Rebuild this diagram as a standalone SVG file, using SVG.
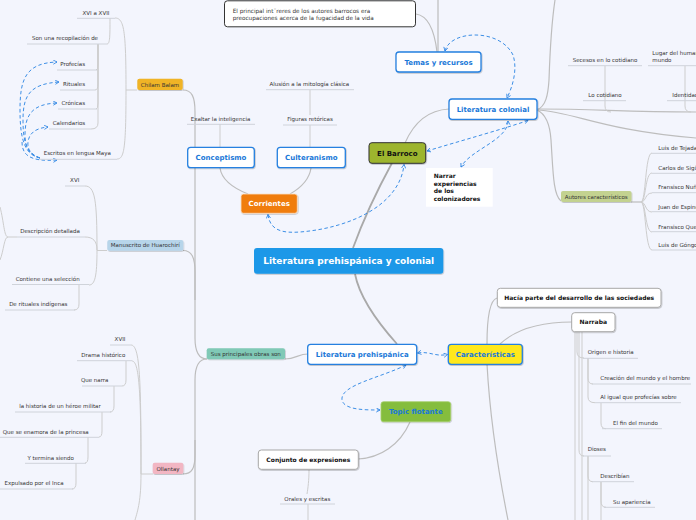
<svg xmlns="http://www.w3.org/2000/svg" width="696" height="520" viewBox="0 0 696 520">
<defs>
<marker id="ar" viewBox="0 0 6 6" refX="5" refY="3" markerWidth="5" markerHeight="5" markerUnits="userSpaceOnUse" orient="auto-start-reverse"><path d="M0.5,0.5 L5,3 L0.5,5.5" fill="none" stroke="#2f86e4" stroke-width="1"/></marker>
<filter id="sh" x="-10%" y="-20%" width="120%" height="150%"><feDropShadow dx="0.6" dy="0.8" stdDeviation="0.6" flood-color="#000" flood-opacity="0.25"/></filter>
</defs>
<style>
text{font-family:"DejaVu Sans","Liberation Sans",sans-serif;}
.s{font-size:5.5px;fill:#333;}
.sm{font-size:5.5px;fill:#333;text-anchor:middle;}
.tb{font-size:7px;font-weight:bold;fill:#1a78d8;text-anchor:middle;}
.tk{font-size:6px;font-weight:bold;fill:#111;text-anchor:middle;}
.blue{fill:#fff;stroke:#2580e0;stroke-width:1.3;}
.gray{fill:#fff;stroke:#a8a8a8;stroke-width:1;}
.u{fill:none;stroke:#cfd3da;stroke-width:1;}
.c1{fill:none;stroke:#a9a9a9;stroke-width:1.8;}
.c2{fill:none;stroke:#bdbdbd;stroke-width:1.2;}
.c3{fill:none;stroke:#cdcdcd;stroke-width:1;}
.d{fill:none;stroke:#3d8fe6;stroke-width:1;stroke-dasharray:3.5 2.5;marker-start:url(#ar);marker-end:url(#ar);}
.de{fill:none;stroke:#3d8fe6;stroke-width:1;stroke-dasharray:3.5 2.5;marker-end:url(#ar);}
</style>
<rect width="696" height="520" fill="#f3f5fd"/>

<g id="connectors">
<!-- main branches -->
<path class="c1" d="M353,248 C365,215 380,185 392,163"/>
<path class="c1" d="M355,274 C360,300 380,325 397,344"/>
<path class="c2" d="M405,143 C415,120 430,110 449,109"/>
<path class="c2" d="M438,0 V52"/>
<path class="c2" d="M416,14 C430,16 435,35 437,52"/>
<path class="c2" d="M537,110 C546,106 548,95 549,80 C550,50 552,20 555,0"/>
<path class="c2" d="M537,110 C546,114 550,125 551,140 C553,170 553,195 561,201"/>
<path class="c2" d="M537,109 C600,109 620,112 696,112"/>
<path class="c2" d="M537,110 C575,112 600,130 696,138"/>
<path class="c3" d="M605,66 V106 Q605,112 611,112"/>
<path class="c3" d="M685,66 V106 Q685,112 691,112"/>
<!-- autores -->
<path class="c2" d="M631,202 H641"/>
<path class="c3" d="M641,202 C646,202 645,153 652,153"/>
<path class="c3" d="M641,202 C646,202 645,173 652,173"/>
<path class="c3" d="M641,202 C646,202 645,193 652,193"/>
<path class="c3" d="M641,202 C646,202 645,212 652,212"/>
<path class="c3" d="M641,202 C646,202 645,232 652,232"/>
<path class="c3" d="M641,202 C646,202 645,250 652,250"/>
<!-- corrientes -->
<path class="c2" d="M220,168 C222,182 238,190 248,194"/>
<path class="c2" d="M311,168 C309,182 297,190 290,194"/>
<path class="c3" d="M220,124 V147"/>
<path class="c3" d="M310,90 V115"/>
<path class="c3" d="M310,125 V147"/>
<!-- prehispanica -->
<path class="c2" d="M308,354 C298,354 296,359 285,359"/>
<path class="c2" d="M207,359 C199,359 195,352 195,338 V112 C195,97 192,90 183,90"/>
<path class="c2" d="M195,300 V272 C195,258 192,250.5 183,250.5"/>
<path class="c2" d="M207,359 C199,359 195,366 195,380 V455 C195,468 192,474 183,474"/>
<path class="c2" d="M195,440 V520"/>
<path class="c2" d="M410,422 C400,445 380,458 358,459"/>
<path class="c3" d="M309,470 C309,480 308,488 307,494"/>
<path class="c3" d="M308,504 V520"/>
<path class="c2" d="M497,298 C490,300 487,315 487,344"/>
<path class="c2" d="M487,364 C490,420 498,470 508,520"/>
<path class="c2" d="M500,344 C515,330 540,322 572,322"/>
<!-- narraba -->
<path class="c3" d="M577,332 V352 Q577,358 584,358"/>
<path class="c3" d="M579,332 V450 Q579,456 584,456"/>
<path class="c3" d="M575,332 V520"/>
<path class="c3" d="M582,332 V520"/>
<path class="c3" d="M588,358 V378 Q588,384 593,384"/>
<path class="c3" d="M588,358 V397 Q588,402.7 595,402.7"/>
<path class="c3" d="M601,403 V423 Q601,428.7 606,428.7"/>
<path class="c3" d="M588,456 V476 Q588,481.7 593,481.7"/>
<path class="c3" d="M588,456 V520"/>
<path class="c3" d="M601,482 V501 Q601,507.3 606,507.3"/>
<path class="c3" d="M601,482 V520"/>
<!-- chilam balam -->
<path class="c3" d="M137,90 H126"/>
<path class="c3" d="M126,90 C126,30 124,18 115,18"/>
<path class="c3" d="M126,90 C126,150 124,159 117,159"/>
<path class="c3" d="M110,18 C110,36 110,44 107,44"/>
<path class="c3" d="M98,44 V64 Q98,70 96,70"/>
<path class="c3" d="M98,44 V84 Q98,90 95,90"/>
<path class="c3" d="M98,44 V103 Q98,109 96,109"/>
<path class="c3" d="M98,44 V123 Q98,129 91,129"/>
<!-- manuscrito -->
<path class="c3" d="M107,250.5 H97"/>
<path class="c3" d="M97,250 C97,200 95,186 85,186"/>
<path class="c3" d="M97,250 C97,241 93,237 85,237"/>
<path class="c3" d="M97,250 C97,276 95,285 89,285"/>
<path class="c3" d="M79,285 V304 Q79,310 74,310"/>
<path class="c3" d="M17,237 H8 C4,237 4,222 0,207"/>
<path class="c3" d="M8,237 C4,237 4,250 0,260"/>
<!-- ollantay -->
<path class="c3" d="M153,474 H141"/>
<path class="c3" d="M141,474 C141,380 140,345 131,345"/>
<path class="c3" d="M141,474 C141,390 139,361 132,361"/>
<path class="c3" d="M141,474 C141,500 138,510 135,520"/>
<path class="c3" d="M126,361 V380 Q126,386 122,386"/>
<path class="c3" d="M114,386 V406 Q114,412 110,412"/>
<path class="c3" d="M102,412 V431 Q102,437 99,437"/>
<path class="c3" d="M88,437 V457 Q88,463 85,463"/>
<path class="c3" d="M76,463 V483 Q76,489 72,489"/>
<!-- dashed relations -->
<path class="d" d="M268,214.5 C270,232 285,233 300,232 C350,228 400,205 404,164.5"/>
<path class="d" d="M427,151 C460,141 500,130 528,120.5"/>
<path class="d" d="M508,121 C508,140 470,150 461,167"/>
<path class="d" d="M445,51 C450,30 500,28 513,55 C518,70 512,88 507,98"/>
<path class="d" d="M417.5,353 C430,351 435,357 447.5,354.5"/>
<path class="d" d="M406,365 C380,378 340,385 342,400 C344,410 365,410 380,410"/>
<path class="de" d="M40,158 C25,155 20,140 20,110 C20,80 25,63 57,62"/>
<path class="de" d="M40,158 C28,155 23,145 23,120 C23,95 30,84 59,82"/>
<path class="de" d="M40,158 C30,155 25,148 25,135 C25,115 32,104 57,103"/>
<path class="de" d="M40,158 C32,155 27,150 28,142 C29,133 36,128 48,127"/>
<path class="de" d="M22,142 C22,155 30,162 57,160"/>
</g>

<g id="underlines">
<path class="u" d="M77,18.3 H115 M27,44 H107 M57,70 H97 M60,90 H95 M58,109 H97 M49,129 H91 M39,159.3 H117"/>
<path class="u" d="M187,124.3 H255 M266,89.7 H354 M283,125 H337"/>
<path class="u" d="M65,186 H85 M17,237 H85 M12,284.5 H89 M5,310 H75"/>
<path class="u" d="M110,345 H131 M77,360.7 H132 M82,386 H122 M15,412 H111 M0,437.3 H99 M25,463.3 H86 M0,489 H73"/>
<path class="u" d="M280,504 H335"/>
<path class="u" d="M568,65.7 H642 M648,65.7 H696 M583,100.7 H626 M667,100.7 H696"/>
<path class="u" d="M652,153.3 H696 M652,173.3 H696 M652,192.7 H696 M652,211.7 H696 M652,231.7 H696 M652,250 H696"/>
<path class="u" d="M583,358.3 H638 M592,384 H691 M595,402.7 H681 M602,428.7 H662 M583,456 H611 M592,481.7 H634 M604,507.3 H655"/>
</g>

<g id="main"><rect x="254" y="248" width="189.3" height="25.7" rx="3" fill="#1c98e8" filter="url(#sh)"/><text x="348.7" y="264.3" style="font-size:9px;font-weight:bold;fill:#fff;text-anchor:middle">Literatura prehispánica y colonial</text></g>

<g id="topbox"><rect x="224.5" y="0.8" width="191" height="26" rx="3" fill="#fff" stroke="#333" stroke-width="1"/><text x="232.7" y="12.6" style="font-size:5.7px;fill:#333">El principal int¨reres de los autores barrocos era</text><text x="232.7" y="19.6" style="font-size:5.7px;fill:#333">preocupaciones acerca de la fugacidad de la vida</text></g>

<g id="temas"><rect class="blue" x="396" y="52" width="85" height="20" rx="3" filter="url(#sh)"/><text class="tb" x="438.5" y="64.5">Temas y recursos</text></g>
<g id="colonial"><rect class="blue" x="449" y="99" width="88" height="20.3" rx="3" filter="url(#sh)"/><text class="tb" x="493" y="111.6">Literatura colonial</text></g>
<g id="barroco"><rect x="369" y="142.7" width="56.7" height="20.6" rx="3" fill="#9db52f" stroke="#333" stroke-width="1" filter="url(#sh)"/><text class="tb" x="397.3" y="155.5" style="fill:#111">El Barroco</text></g>
<g id="conceptismo"><rect class="blue" x="187.7" y="147.3" width="66.6" height="20.4" rx="3" filter="url(#sh)"/><text class="tb" x="221" y="160">Conceptismo</text></g>
<g id="culteranismo"><rect class="blue" x="277.3" y="147.3" width="68" height="20.4" rx="3" filter="url(#sh)"/><text class="tb" x="311.3" y="160">Culteranismo</text></g>
<g id="corrientes"><rect x="241" y="194" width="56.3" height="19.3" rx="2.5" fill="#f07d10" stroke="#fbe2c8" stroke-width="0.8" filter="url(#sh)"/><text class="tb" x="269.2" y="206.2" style="fill:#fff">Corrientes</text></g>
<g id="narrar"><rect x="426" y="168" width="66.7" height="38.7" fill="#fff"/><text x="433.7" y="178" style="font-size:6px;font-weight:bold;fill:#111">Narrar</text><text x="433.7" y="185.6" style="font-size:6px;font-weight:bold;fill:#111">experiencias</text><text x="433.7" y="193.3" style="font-size:6px;font-weight:bold;fill:#111">de los</text><text x="433.7" y="201" style="font-size:6px;font-weight:bold;fill:#111">colonizadores</text></g>

<g id="exaltar"><text class="s" x="190.7" y="121">Exaltar la inteligencia</text></g>
<g id="alusion"><text class="sm" x="309.3" y="86">Alusión a la mitología clásica</text></g>
<g id="figuras"><text class="sm" x="310" y="121">Figuras retóricas</text></g>

<g id="secesos"><text class="s" x="572.7" y="62">Secesos en lo cotidiano</text></g>
<g id="lugar"><text class="s" x="652.3" y="55.3">Lugar del humano en el</text><text class="s" x="652.3" y="62">mundo</text></g>
<g id="locotidiano"><text class="s" x="588.3" y="97">Lo cotidiano</text></g>
<g id="identidad"><text class="s" x="672.3" y="97">Identidad</text></g>

<g id="autores"><rect x="561" y="191" width="70.5" height="11" rx="2" fill="#c3d290" filter="url(#sh)"/><text class="sm" x="596.2" y="198.5">Autores característicos</text></g>
<g id="a1"><text class="s" x="658.3" y="150.3">Luis de Tejada</text></g>
<g id="a2"><text class="s" x="658.3" y="169.7">Carlos de Sigüenza</text></g>
<g id="a3"><text class="s" x="658.3" y="189.3">Fransisco Nuñez</text></g>
<g id="a4"><text class="s" x="658.3" y="209.3">Juan de Espinosa</text></g>
<g id="a5"><text class="s" x="658.3" y="228.7">Fransisco Quevedo</text></g>
<g id="a6"><text class="s" x="658.3" y="247">Luis de Góngora</text></g>

<g id="chilam"><rect x="137.3" y="78.7" width="45.4" height="11.3" rx="2" fill="#f0b428" filter="url(#sh)"/><text class="sm" x="160" y="86.5">Chilam Balam</text></g>
<g id="xvi-xvii"><text class="sm" x="96" y="15.3">XVI a XVII</text></g>
<g id="recopilacion"><text class="sm" x="65" y="40.3">Son una recopilación de</text></g>
<g id="profecias"><text class="sm" x="72.7" y="66">Profecías</text></g>
<g id="rituales"><text class="sm" x="74" y="86">Rituales</text></g>
<g id="cronicas"><text class="sm" x="73.3" y="105.3">Crónicas</text></g>
<g id="calendarios"><text class="sm" x="69" y="125.3">Calendarios</text></g>
<g id="escritos"><text class="sm" x="77.3" y="155.3">Escritos en lengua Maya</text></g>

<g id="manuscrito"><rect x="107.3" y="240" width="76" height="10.7" rx="2" fill="#b7d5ea" filter="url(#sh)"/><text class="sm" x="145.3" y="247.4">Manuscrito de Huarochirí</text></g>
<g id="xvi"><text class="sm" x="74.7" y="182">XVI</text></g>
<g id="descripcion"><text class="sm" x="50" y="233">Descripción detallada</text></g>
<g id="contiene"><text class="sm" x="47.7" y="281">Contiene una selección</text></g>
<g id="derituales"><text class="sm" x="38.3" y="306">De rituales indígenas</text></g>

<g id="ollantay"><rect x="152.7" y="462.7" width="30.6" height="11.3" rx="2" fill="#f2b6c3" filter="url(#sh)"/><text class="sm" x="168" y="470.5">Ollantay</text></g>
<g id="xvii"><text class="sm" x="120" y="341">XVII</text></g>
<g id="drama"><text class="sm" x="103.3" y="357">Drama histórico</text></g>
<g id="quenarra"><text class="sm" x="94.7" y="382.3">Que narra</text></g>
<g id="historia"><text class="sm" x="60" y="408">la historia de un héroe militar</text></g>
<g id="enamora"><text class="sm" x="45.7" y="434">Que se enamora de la princesa</text></g>
<g id="termina"><text class="sm" x="50.7" y="460">Y termina siendo</text></g>
<g id="expulsado"><text class="sm" x="34" y="485.3">Expulsado por el Inca</text></g>

<g id="obras"><rect x="206.7" y="348.3" width="78.3" height="11" rx="2" fill="#80c9b6" filter="url(#sh)"/><text class="sm" x="245.8" y="355.8">Sus principales obras son</text></g>
<g id="prehispanica"><rect class="blue" x="307.7" y="344.3" width="109" height="20" rx="3" filter="url(#sh)"/><text class="tb" x="362.2" y="356.6">Literatura prehispánica</text></g>
<g id="caracteristicas"><rect x="448.3" y="344.3" width="74" height="20" rx="3" fill="#ffe81a" stroke="#2580e0" stroke-width="1.3" filter="url(#sh)"/><text class="tb" x="485.3" y="356.6">Características</text></g>
<g id="flotante"><rect x="381" y="401.7" width="69.7" height="20" rx="2.5" fill="#85bd3c" stroke="#a7d06f" stroke-width="0.8" filter="url(#sh)"/><text class="tb" x="415.8" y="414">Topic flotante</text></g>
<g id="conjunto"><rect class="gray" x="258.3" y="450" width="100" height="19.3" rx="3" filter="url(#sh)"/><text class="tk" x="308.3" y="461.8">Conjunto de expresiones</text></g>
<g id="orales"><text class="sm" x="307.3" y="501">Orales y escritas</text></g>

<g id="hacia"><rect class="gray" x="497.3" y="288.3" width="163.7" height="19" rx="3" filter="url(#sh)"/><text class="tk" x="579.2" y="299.9">Hacía parte del desarrollo de las sociedades</text></g>
<g id="narraba"><rect class="gray" x="571.7" y="312.7" width="43.3" height="19" rx="3" filter="url(#sh)"/><text class="tk" x="593.3" y="324.3">Narraba</text></g>
<g id="origen"><text class="s" x="587.7" y="354.3">Origen e historia</text></g>
<g id="creacion"><text class="s" x="600.3" y="380">Creación del mundo y el hombre</text></g>
<g id="aligual"><text class="s" x="600.3" y="399.3">Al igual que profecías sobre</text></g>
<g id="fin"><text class="s" x="613" y="425">El fin del mundo</text></g>
<g id="dioses"><text class="s" x="587.7" y="451.3">Dioses</text></g>
<g id="describian"><text class="s" x="600.3" y="478">Describían</text></g>
<g id="apariencia"><text class="s" x="613" y="504">Su apariencia</text></g>
<g id="actitud"><text class="s" x="613" y="525.5">Actitud</text></g>
</svg>
